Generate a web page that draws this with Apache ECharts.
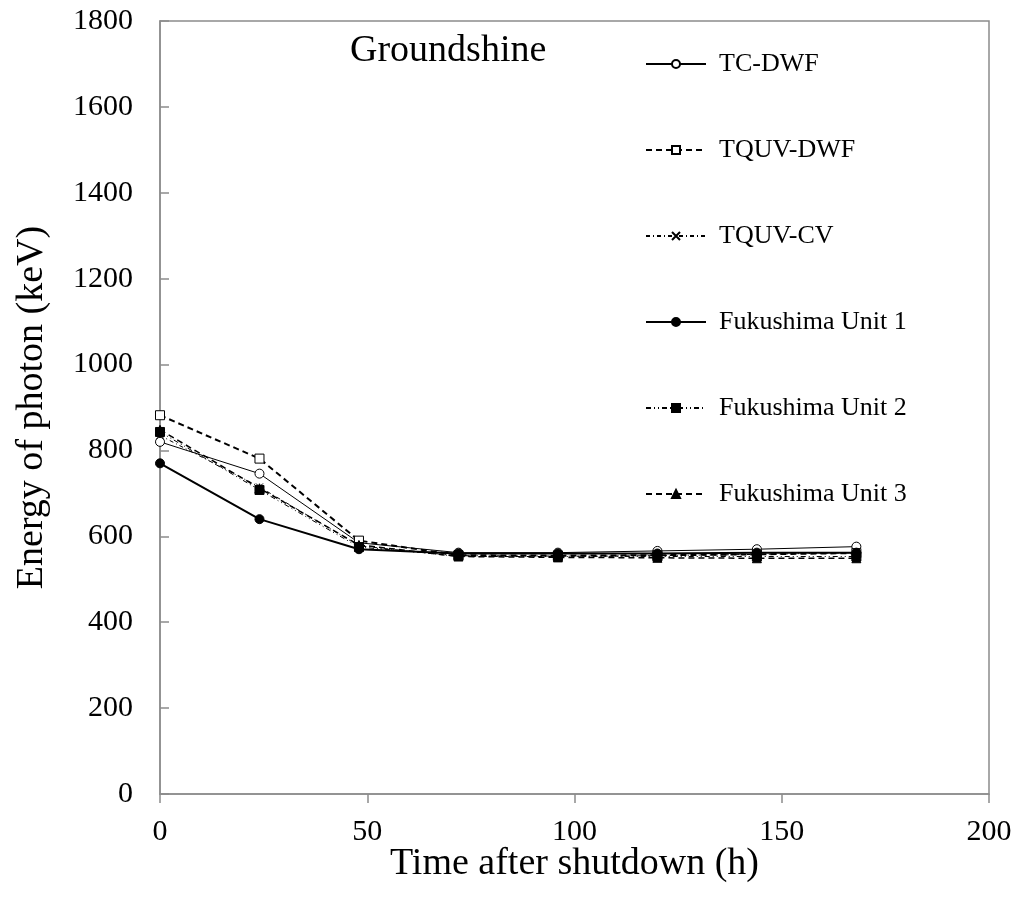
<!DOCTYPE html>
<html><head><meta charset="utf-8">
<script src="https://cdn.jsdelivr.net/npm/echarts@6/dist/echarts.min.js"></script>
<style>html,body{margin:0;padding:0;background:#fff}#c{width:1019px;height:898px}</style>
</head><body><div id="c"></div>
<script>
const hours = [0, 24, 48, 72, 96, 120, 144, 168];
const tcDwf    = [820, 746, 585, 562, 562, 566, 570, 576];
const tquvDwf  = [882, 781, 590, 556, 555, 556, 558, 561];
const tquvCv   = [835, 715, 578, 553, 553, 555, 558, 562];
const fuku1    = [770, 640, 570, 560, 560, 560, 562, 562];
const fuku2    = [843, 708, 575, 555, 554, 553, 553, 553];
const fuku3    = [848, 712, 580, 553, 551, 550, 549, 549];
const seriesNames = ['TC-DWF', 'TQUV-DWF', 'TQUV-CV', 'Fukushima Unit 1', 'Fukushima Unit 2', 'Fukushima Unit 3'];

const pair = arr => hours.map((h, i) => [h, arr[i]]);
const FONT = '"Liberation Serif", "Times New Roman", serif';
const xPath = 'path://M0,0L10,10M10,0L0,10';

function mk(name, data, symbol, size, lineType, lineWidth, fillColor) {
  return {
    name, type: 'line', data: pair(data), symbol, symbolSize: size,
    showAllSymbol: true,
    lineStyle: { color: '#000', width: lineWidth, type: lineType },
    itemStyle: { color: fillColor, borderColor: '#000', borderWidth: 1 },
    emphasis: { disabled: true }, animation: false
  };
}

const chart = echarts.init(document.getElementById('c'));
chart.setOption({
  backgroundColor: '#fff',
  animation: false,
  grid: { left: 160, top: 21, right: 30, bottom: 104, show: true, borderColor: '#8c8c8c', borderWidth: 1.5, backgroundColor: 'transparent' },
  graphic: [{ type: 'text', left: 350, top: 32, style: { text: 'Groundshine', font: '38px ' + FONT, fill: '#000' } }],
  legend: {
    orient: 'vertical', left: 640, top: 46, itemWidth: 60, itemHeight: 10, itemGap: 60,
    textStyle: { fontFamily: FONT, fontSize: 26, color: '#000', lineHeight: 26, padding: [0, 0, 0, 8] },
    data: seriesNames
  },
  xAxis: {
    type: 'value', min: 0, max: 200, interval: 50,
    name: 'Time after shutdown (h)', nameLocation: 'middle', nameGap: 51, nameMoveOverlap: false,
    nameTextStyle: { fontFamily: FONT, fontSize: 38, color: '#000' },
    axisLine: { lineStyle: { color: '#8c8c8c', width: 1.5 } },
    axisTick: { inside: false, length: 9, lineStyle: { color: '#8c8c8c', width: 1.5 } },
    axisLabel: { fontFamily: FONT, fontSize: 30, color: '#000', margin: 23 },
    splitLine: { show: false }
  },
  yAxis: {
    type: 'value', min: 0, max: 1800, interval: 200,
    name: 'Energy of photon (keV)', nameLocation: 'middle', nameGap: 109, nameRotate: 90, nameMoveOverlap: false,
    nameTextStyle: { fontFamily: FONT, fontSize: 38, color: '#000' },
    axisLine: { lineStyle: { color: '#8c8c8c', width: 1.5 } },
    axisTick: { inside: true, length: 9, lineStyle: { color: '#8c8c8c', width: 1.5 } },
    axisLabel: { fontFamily: FONT, fontSize: 30, color: '#000', margin: 27, formatter: v => String(v) },
    splitLine: { show: false }
  },
  series: [
    mk(seriesNames[0], tcDwf, 'circle', 9, 'solid', 1, '#fff'),
    mk(seriesNames[1], tquvDwf, 'rect', 9, [6, 4], 2, '#fff'),
    mk(seriesNames[2], tquvCv, xPath, 7, [4, 3, 1, 3], 1, '#000'),
    mk(seriesNames[3], fuku1, 'circle', 9, 'solid', 2, '#000'),
    mk(seriesNames[4], fuku2, 'rect', 9, [5, 3, 1, 3, 1, 3], 1, '#000'),
    mk(seriesNames[5], fuku3, 'triangle', 9, [6, 4], 1.5, '#000')
  ]
});
</script></body></html>
